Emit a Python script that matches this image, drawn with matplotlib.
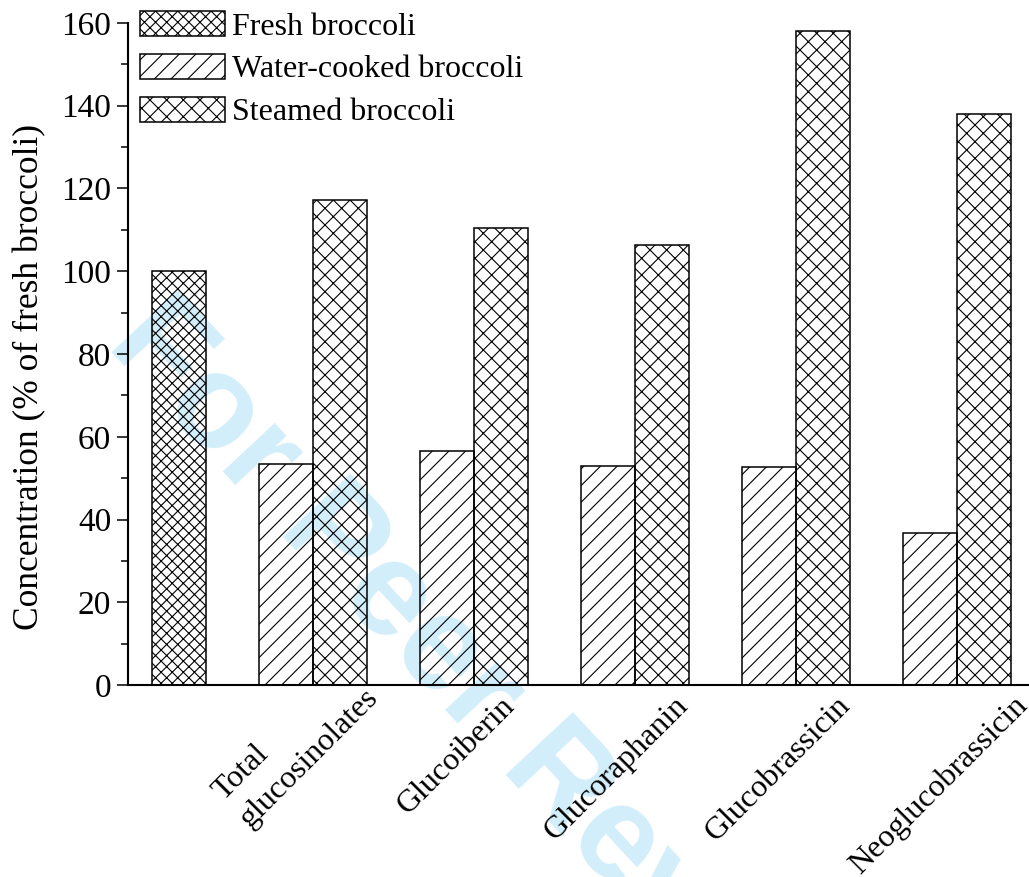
import numpy as np
import matplotlib
matplotlib.use("Agg")
from matplotlib import pyplot as plt
from matplotlib.ticker import MultipleLocator
from matplotlib.transforms import ScaledTranslation

plt.rcParams['font.family'] = ['Liberation Serif', 'DejaVu Serif']
plt.rcParams['hatch.linewidth'] = 0.8

# data (% of fresh broccoli)
compounds = ["Total\nglucosinolates", "Glucoiberin", "Glucoraphanin",
             "Glucobrassicin", "Neoglucobrassicin"]
fresh = [100.0]
water_cooked = [53.4, 56.6, 52.9, 52.7, 36.7]
steamed = [117.2, 110.5, 106.3, 158.1, 138.0]
series_names = ["Fresh broccoli", "Water-cooked broccoli", "Steamed broccoli"]

fig = plt.figure(figsize=(10.29, 8.77), dpi=100)
ax = fig.add_axes([0.1244, 0.2189, 0.8746, 0.7549])
ax.patch.set_alpha(0)

# watermark behind everything
fig.text(0.126, 1 - 322 / 877, "For Peer Review", rotation=-47, rotation_mode='anchor',
         ha='left', va='center', fontsize=96, fontweight='bold', color='#d3eefb',
         family='Liberation Sans', zorder=-10)

x = np.arange(1, len(compounds) + 1)
w = 1 / 3

ax.bar([x[0] - 5 / 6], fresh, w, facecolor='none', edgecolor='black', linewidth=1.1,
       hatch='xxx', label=series_names[0])
ax.bar(x - w / 2, water_cooked, w, facecolor='none', edgecolor='black', linewidth=1.1,
       hatch='//', label=series_names[1])
ax.bar(x + w / 2, steamed, w, facecolor='none', edgecolor='black', linewidth=1.1,
       hatch='xx', label=series_names[2])

ax.set_xlim(-0.15, 5.44)
ax.set_ylim(0, 160)
ax.spines['top'].set_visible(False)
ax.spines['right'].set_visible(False)
ax.spines['left'].set_linewidth(1.5)
ax.spines['bottom'].set_linewidth(1.5)

ax.yaxis.set_major_locator(MultipleLocator(20))
ax.yaxis.set_minor_locator(MultipleLocator(10))
ax.tick_params(axis='y', which='major', direction='out', length=8, width=1.1,
               labelsize=24, pad=4)
ax.tick_params(axis='y', which='minor', direction='out', length=5, width=1.1)
ax.tick_params(axis='x', length=0, labelsize=23, pad=5)

ax.set_xticks(x)
ax.set_xticklabels(compounds, rotation=45, ha='center', va='top', multialignment='left')
for i, lbl in enumerate(ax.get_xticklabels()):
    if i == 0:
        lbl.set_linespacing(1.4)
        shift = ScaledTranslation(-0.17, 0.36, fig.dpi_scale_trans)
    else:
        shift = ScaledTranslation(-0.18, 0.01, fig.dpi_scale_trans)
    lbl.set_transform(lbl.get_transform() + shift)

ax.set_ylabel("Concentration (% of fresh broccoli)", fontsize=25.5)
ax.yaxis.set_label_coords(-0.091, 0.465)

ax.legend(loc='upper left', bbox_to_anchor=(140 / 1029, 1 - 11 / 877),
          bbox_transform=fig.transFigure, frameon=False, fontsize=23,
          handlelength=2.66, handleheight=0.82, handletextpad=0.22,
          labelspacing=0.39, borderpad=0, borderaxespad=0)

fig.savefig("out.png", dpi=100)
